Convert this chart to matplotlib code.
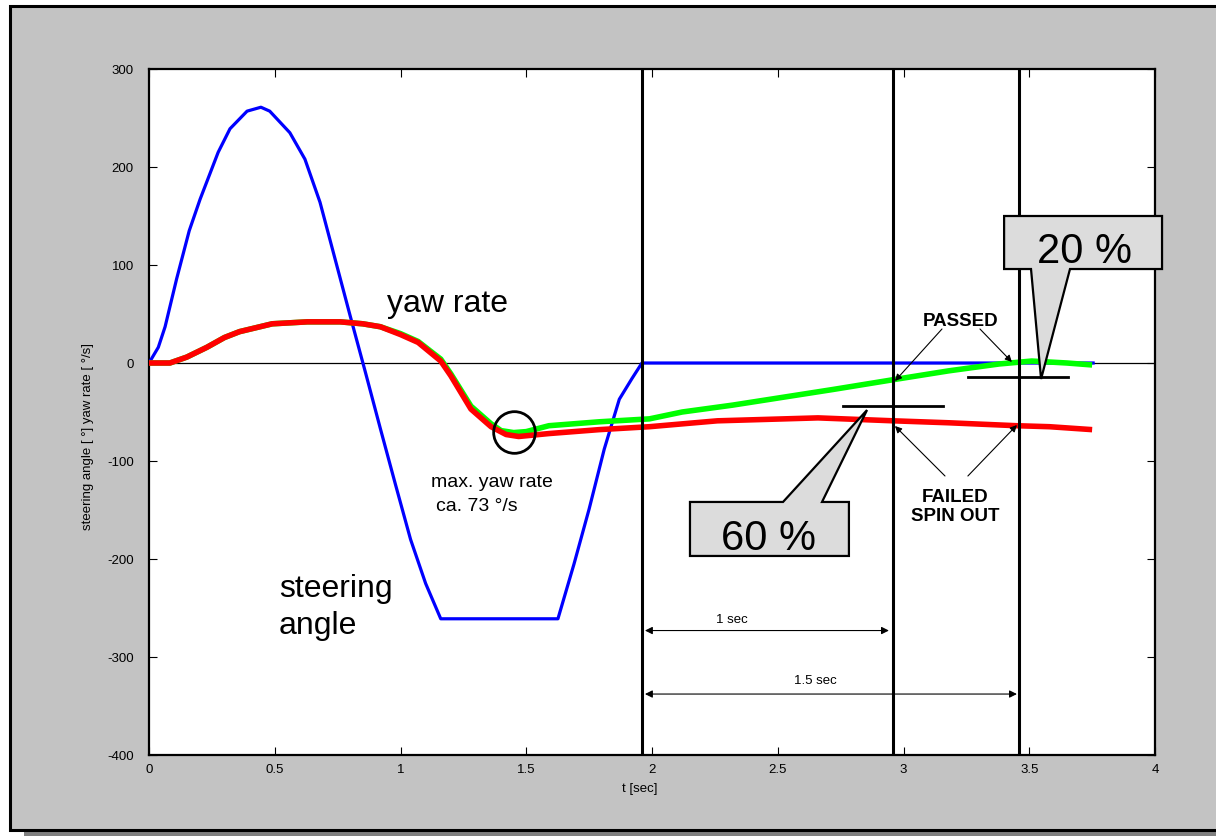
import numpy as np
import matplotlib
matplotlib.use('Agg')
import matplotlib.pyplot as plt
from matplotlib.patches import Rectangle, Polygon

plt.rcParams['font.family'] = ['Liberation Sans', 'DejaVu Sans']
plt.rcParams['axes.unicode_minus'] = False

# ---data
steer_t = [0, 0.037, 0.064, 0.11, 0.16, 0.203, 0.275, 0.322, 0.39, 0.445, 0.48,
           0.56, 0.62, 0.68, 0.74, 0.80, 0.86, 0.92, 0.98, 1.04, 1.10, 1.16, 1.626,
           1.69, 1.75, 1.81, 1.87, 1.92, 1.96, 3.754]
steer = [0, 16, 37, 86, 135, 167, 215, 239, 257, 261, 257,
         235, 208, 164, 106, 48, -9, -67, -124, -180, -225, -261, -261,
         -205, -149, -88, -37, -16, 0, 0]

yaw_t = [0, 0.083, 0.15, 0.23, 0.30, 0.36, 0.49, 0.63, 0.76, 0.85, 0.92, 1.0, 1.07,
         1.16, 1.2, 1.28, 1.36, 1.42, 1.47, 1.59, 1.79, 1.99, 2.26, 2.66, 2.96,
         3.18, 3.45, 3.58, 3.75]
yaw_failed = [0, 0, 6, 16, 26, 32, 40, 42, 42, 40, 37, 29, 21,
              2, -13, -47, -65, -73, -75, -72, -68, -65, -59, -56, -59,
              -61, -64, -65, -68]

yaw2_t = [0, 0.083, 0.15, 0.23, 0.30, 0.36, 0.49, 0.63, 0.76, 0.85, 0.92, 1.0, 1.07,
          1.16, 1.2, 1.28, 1.36, 1.40, 1.45, 1.50, 1.59, 1.79, 1.99, 2.12, 2.32,
          2.52, 2.72, 2.96, 3.18, 3.38, 3.51, 3.65, 3.75]
yaw_passed = [0, 0, 6, 16, 26, 32, 40, 42, 42, 40, 37, 30, 22,
              4, -11, -44, -62, -69, -71, -70, -64, -60, -57, -50, -43,
              -35, -27, -17, -8, -1, 2, 0, -2]

t_marks = [1.96, 2.958, 3.459]   # steering end, +1 sec, +1.5 sec
level_60 = -43.9
level_20 = -14.3
max_yaw = (1.451, -70.4)

# ---figure
fig = plt.figure(figsize=(12.16, 8.37), dpi=100, facecolor='white')
W, H = 1216.0, 837.0

# gray frame with shadow
fig.patches.append(Rectangle((24 / W, -10 / H), 1.1, 16 / H, transform=fig.transFigure,
                             facecolor='#808080', edgecolor='none', zorder=-3))
fig.patches.append(Rectangle((10 / W, 1 - 831 / H), 1.1, 824 / H, transform=fig.transFigure,
                             facecolor='#c3c3c3', edgecolor='black', lw=2.2, zorder=-2))

ax = fig.add_axes([149 / W, 1 - 756 / H, 1006 / W, 686 / H])
ax.set_zorder(2)
ax.set_facecolor('white')
ax.set_xlim(0, 4)
ax.set_ylim(-400, 300)
ax.set_xticks(np.arange(0, 4.01, 0.5))
ax.set_xticklabels(['0', '0.5', '1', '1.5', '2', '2.5', '3', '3.5', '4'])
ax.set_yticks(np.arange(-400, 301, 100))
ax.tick_params(direction='in', length=6, width=0.8, top=True, right=True,
               labelsize=9.5, colors='black')
ax.tick_params(axis='y', pad=11)
ax.tick_params(axis='x', pad=6)
for s in ax.spines.values():
    s.set_linewidth(1.6)

# zero line
ax.axhline(0, color='black', lw=0.9, zorder=1)

# curves
ax.plot(steer_t, steer, color='#0000ff', lw=2.3, zorder=3)
ax.plot(yaw2_t, yaw_passed, color='#00ff00', lw=4, zorder=3, solid_capstyle='butt')
ax.plot(yaw_t, yaw_failed, color='#ff0000', lw=4, zorder=4, solid_capstyle='butt')

# vertical time marks
for tm in t_marks:
    ax.axvline(tm, color='black', lw=2.2, zorder=5)

# level marks
ax.plot([2.759, 3.157], [level_60, level_60], color='black', lw=2, zorder=5)
ax.plot([3.256, 3.654], [level_20, level_20], color='black', lw=2, zorder=5)

# max yaw circle
ax.plot(max_yaw[0], max_yaw[1], marker='o', ms=30, mfc='none', mec='black', mew=2, zorder=6)

# text labels
ax.text(0.946, 53, 'yaw rate', fontsize=23, ha='left', va='baseline')
ax.text(0.517, -237.8, 'steering', fontsize=23, ha='left', va='baseline')
ax.text(0.517, -276, 'angle', fontsize=23, ha='left', va='baseline')
ax.text(1.121, -125.5, 'max. yaw rate', fontsize=14, ha='left', va='baseline')
ax.text(1.141, -150, 'ca. 73 °/s', fontsize=14, ha='left', va='baseline')

# callouts
c60 = [(2.151, -141.8), (2.521, -141.8), (2.855, -48.0), (2.676, -141.8),
       (2.783, -141.8), (2.783, -196.9), (2.151, -196.9)]
ax.add_patch(Polygon(c60, closed=True, facecolor='#dcdcdc', edgecolor='black',
                     lw=1.6, zorder=7, clip_on=False))
ax.text(2.465, -189.8, '60 %', fontsize=30, ha='center', va='baseline', zorder=8)

c20 = [(3.400, 150.0), (4.028, 150.0), (4.028, 95.9), (3.662, 95.9),
       (3.547, -16.3), (3.507, 95.9), (3.400, 95.9)]
ax.add_patch(Polygon(c20, closed=True, facecolor='#dcdcdc', edgecolor='black',
                     lw=1.6, zorder=7, clip_on=False))
ax.text(3.718, 103, '20 %', fontsize=30, ha='center', va='baseline', zorder=8,
        clip_on=False)

# passed / failed labels
ax.text(3.225, 42.9, 'PASSED', fontsize=13.5, fontweight='bold', ha='center', va='center')
ax.text(3.205, -145.9, 'FAILED\nSPIN OUT', fontsize=13.5, fontweight='bold',
        ha='center', va='center', linespacing=1.1)
arr = dict(arrowstyle='-|>', lw=0.8, color='black', mutation_scale=10, shrinkA=0, shrinkB=0)
ax.annotate('', xy=(2.966, -18.4), xytext=(3.153, 34.7), arrowprops=arr, zorder=6)
ax.annotate('', xy=(3.431, 1.0), xytext=(3.304, 34.7), arrowprops=arr, zorder=6)
ax.annotate('', xy=(2.966, -64.3), xytext=(3.165, -115.3), arrowprops=arr, zorder=6)
ax.annotate('', xy=(3.451, -63.3), xytext=(3.256, -115.3), arrowprops=arr, zorder=6)

# duration arrows
darr = dict(arrowstyle='<|-|>', lw=0.8, color='black', mutation_scale=11, shrinkA=0, shrinkB=0)
ax.annotate('', xy=(2.942, -273), xytext=(1.972, -273), arrowprops=darr)
ax.annotate('', xy=(3.451, -337.8), xytext=(1.972, -337.8), arrowprops=darr)
ax.text(2.318, -261, '1 sec', fontsize=9.5, ha='center', va='center')
ax.text(2.648, -323, '1.5 sec', fontsize=9.5, ha='center', va='center')

# axis labels
fig.text(640 / W, 1 - 789 / H, 't [sec]', fontsize=9.5, ha='center', va='center')
fig.text(88 / W, 1 - 437 / H, 'steering angle [ °] yaw rate [ °/s]', fontsize=9.5,
         rotation=90, ha='center', va='center')

fig.savefig('out.png', dpi=100, facecolor=fig.get_facecolor())
